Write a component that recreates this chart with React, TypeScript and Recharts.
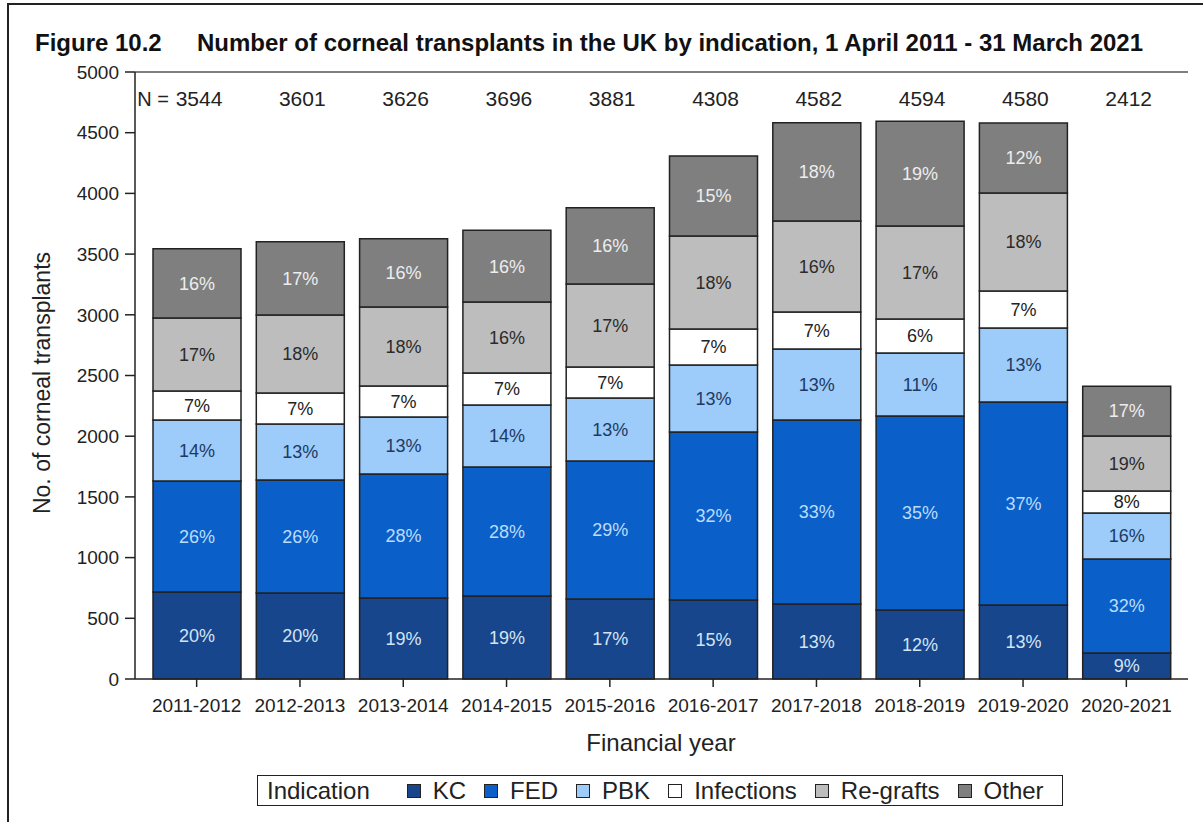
import { Bar, BarChart, LabelList, ReferenceLine, XAxis, YAxis } from "recharts";

const years = [
  "2011-2012",
  "2012-2013",
  "2013-2014",
  "2014-2015",
  "2015-2016",
  "2016-2017",
  "2017-2018",
  "2018-2019",
  "2019-2020",
  "2020-2021",
];
const totals = [3544, 3601, 3626, 3696, 3881, 4308, 4582, 4594, 4580, 2412];

// counts
const kc = [717, 708, 667, 684, 659, 651, 618, 568, 610, 214];
const fed = [914, 931, 1022, 1062, 1137, 1384, 1515, 1598, 1672, 774];
const pbk = [502, 461, 469, 511, 519, 552, 585, 519, 609, 379];
const infections = [239, 256, 256, 264, 255, 296, 305, 280, 305, 182];
const regrafts = [602, 642, 650, 584, 684, 766, 750, 766, 807, 453];
const other = [570, 603, 562, 591, 627, 659, 809, 863, 577, 410];

// printed percentages
const kcPct = [20, 20, 19, 19, 17, 15, 13, 12, 13, 9];
const fedPct = [26, 26, 28, 28, 29, 32, 33, 35, 37, 32];
const pbkPct = [14, 13, 13, 14, 13, 13, 13, 11, 13, 16];
const infectionsPct = [7, 7, 7, 7, 7, 7, 7, 6, 7, 8];
const regraftsPct = [17, 18, 18, 16, 17, 18, 16, 17, 18, 19];
const otherPct = [16, 17, 16, 16, 16, 15, 18, 19, 12, 17];

const yTicks = [0, 500, 1000, 1500, 2000, 2500, 3000, 3500, 4000, 4500, 5000];

const series = [
  { key: "kc", name: "KC", fill: "#17468c", text: "#d4e4f4" },
  { key: "fed", name: "FED", fill: "#0a60c8", text: "#bcdcfb" },
  { key: "pbk", name: "PBK", fill: "#9dcbfa", text: "#1d3a63" },
  { key: "infections", name: "Infections", fill: "#ffffff", text: "#222222" },
  { key: "regrafts", name: "Re-grafts", fill: "#bdbdbd", text: "#2b2b2b" },
  { key: "other", name: "Other", fill: "#7f7f7f", text: "#ededed" },
];

const font = "'Liberation Sans', Arial, sans-serif";
const ink = "#222222";

const data = years.map((year, i) => ({
  year,
  total: totals[i],
  kc: kc[i],
  fed: fed[i],
  pbk: pbk[i],
  infections: infections[i],
  regrafts: regrafts[i],
  other: other[i],
  kcLabel: `${kcPct[i]}%`,
  fedLabel: `${fedPct[i]}%`,
  pbkLabel: `${pbkPct[i]}%`,
  infectionsLabel: `${infectionsPct[i]}%`,
  regraftsLabel: `${regraftsPct[i]}%`,
  otherLabel: `${otherPct[i]}%`,
}));

function TotalLabel(props: any) {
  const { x, width, index } = props;
  const cx = Number(x) + Number(width) / 2 + 2;
  return (
    <g>
      {index === 0 ? (
        <text x={cx - 30} y={106} textAnchor="end" fontSize={20} fontFamily={font} fill={ink}>
          N =
        </text>
      ) : null}
      <text x={cx} y={106} textAnchor="middle" fontSize={21} fontFamily={font} fill={ink}>
        {totals[index]}
      </text>
    </g>
  );
}

function LegendBox() {
  return (
    <div
      style={{
        position: "absolute",
        left: 257,
        top: 775,
        width: 806,
        height: 31,
        border: `1.5px solid ${ink}`,
        boxSizing: "border-box",
        display: "flex",
        alignItems: "center",
        fontFamily: font,
        fontSize: 24,
        color: ink,
        paddingLeft: 9,
      }}
    >
      <span style={{ marginRight: 37 }}>Indication</span>
      {series.map((s) => (
        <span key={s.key} style={{ display: "flex", alignItems: "center", marginRight: 18 }}>
          <span
            style={{
              width: 14,
              height: 14,
              background: s.fill,
              border: `1.5px solid ${ink}`,
              boxSizing: "border-box",
              marginRight: 12,
            }}
          />
          {s.name}
        </span>
      ))}
    </div>
  );
}

export default function App() {
  return (
    <div
      style={{
        position: "absolute",
        left: 0,
        top: 0,
        width: 1203,
        height: 822,
        background: "#ffffff",
        overflow: "hidden",
        fontFamily: font,
      }}
    >
      <div
        style={{
          position: "absolute",
          left: 7,
          top: 3,
          width: 1200,
          height: 830,
          borderTop: `2px solid ${ink}`,
          borderLeft: `2px solid ${ink}`,
        }}
      />
      <div
        style={{
          position: "absolute",
          left: 35,
          top: 29,
          fontSize: 24,
          fontWeight: 700,
          color: "#111",
          whiteSpace: "nowrap",
          lineHeight: "28px",
        }}
      >
        Figure 10.2
      </div>
      <div
        style={{
          position: "absolute",
          left: 197,
          top: 29,
          fontSize: 24,
          fontWeight: 700,
          color: "#111",
          whiteSpace: "nowrap",
          lineHeight: "28px",
        }}
      >
        Number of corneal transplants in the UK by indication, 1 April 2011 - 31 March 2021
      </div>

      <BarChart
        width={1203}
        height={822}
        data={data}
        margin={{ top: 72, right: 15, left: 75, bottom: 113 }}
        barSize={88}
        style={{ position: "absolute", left: 0, top: 0 }}
      >
        <XAxis
          dataKey="year"
          height={30}
          padding={{ left: 10, right: 10 }}
          axisLine={{ stroke: ink, strokeWidth: 1.5 }}
          tickLine={{ stroke: ink, strokeWidth: 1.5 }}
          tickSize={8}
          tickMargin={12}
          interval={0}
          tick={{ fill: ink, fontSize: 19, fontFamily: font }}
        />
        <YAxis
          width={60}
          domain={[0, 5000]}
          ticks={yTicks}
          interval={0}
          axisLine={{ stroke: ink, strokeWidth: 1.5 }}
          tickLine={{ stroke: ink, strokeWidth: 1.5 }}
          tickSize={10}
          tickMargin={6}
          tick={{ fill: ink, fontSize: 19, fontFamily: font }}
        />
        <YAxis
          yAxisId="frame"
          orientation="right"
          width={0}
          tick={false}
          tickLine={false}
          axisLine={{ stroke: "#555555", strokeWidth: 1.5 }}
        />
        <ReferenceLine y={5000} stroke="#555555" strokeWidth={1.5} />
        {series.map((s) => (
          <Bar
            key={s.key}
            dataKey={s.key}
            name={s.name}
            stackId="a"
            fill={s.fill}
            stroke={ink}
            strokeWidth={1.5}
            isAnimationActive={false}
          >
            <LabelList
              dataKey={`${s.key}Label`}
              position="center"
              fill={s.text}
              fontSize={18}
              fontFamily={font}
            />
            {s.key === "other" ? <LabelList dataKey="total" content={<TotalLabel />} /> : null}
          </Bar>
        ))}
      </BarChart>

      <div
        style={{
          position: "absolute",
          left: 42,
          top: 383,
          transform: "translate(-50%, -50%) rotate(-90deg)",
          fontSize: 23,
          color: ink,
          whiteSpace: "nowrap",
        }}
      >
        No. of corneal transplants
      </div>
      <div
        style={{
          position: "absolute",
          left: 661,
          top: 743,
          transform: "translate(-50%, -50%)",
          fontSize: 24,
          color: ink,
          whiteSpace: "nowrap",
        }}
      >
        Financial year
      </div>
      <LegendBox />
    </div>
  );
}
